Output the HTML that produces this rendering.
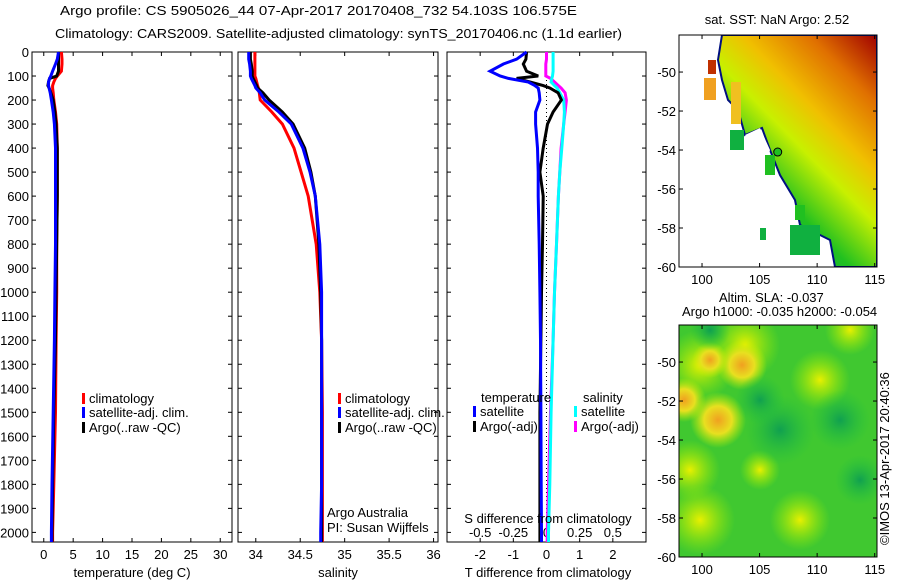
<!DOCTYPE html>
<html><head><meta charset="utf-8"><style>
body{margin:0;background:#fff}
svg text{font-family:"Liberation Sans",sans-serif;font-size:13px;fill:#000}
</style></head><body>
<svg id="s" width="900" height="580" viewBox="0 0 900 580">
<defs>
<linearGradient id="sstg" x1="1" y1="0" x2="0.3" y2="1">
<stop offset="0" stop-color="#a00000"/><stop offset="0.2" stop-color="#e07000"/><stop offset="0.4" stop-color="#f0c000"/><stop offset="0.55" stop-color="#c8f000"/><stop offset="0.75" stop-color="#20c020"/><stop offset="1" stop-color="#10a060"/></linearGradient>
<radialGradient id="blobO"><stop offset="0" stop-color="#f0a020"/><stop offset="0.5" stop-color="#e8e020"/><stop offset="1" stop-color="#c0f000" stop-opacity="0"/></radialGradient>
<radialGradient id="blobY"><stop offset="0" stop-color="#e8f000"/><stop offset="1" stop-color="#a0f000" stop-opacity="0"/></radialGradient>
<radialGradient id="blobG"><stop offset="0" stop-color="#10a050"/><stop offset="1" stop-color="#20c040" stop-opacity="0"/></radialGradient>
<clipPath id="clipSst"><rect x="679" y="35" width="198" height="232"/></clipPath>
<clipPath id="clipSla"><rect x="679" y="325" width="198" height="232"/></clipPath>
</defs>
<text x="60" y="15" font-size="14" textLength="517" lengthAdjust="spacingAndGlyphs">Argo profile: CS 5905026_44 07-Apr-2017 20170408_732 54.103S 106.575E</text>
<text x="55" y="38" font-size="14" textLength="567" lengthAdjust="spacingAndGlyphs">Climatology: CARS2009. Satellite-adjusted climatology: synTS_20170406.nc (1.1d earlier)</text>
<g id="plots"></g>
</svg>
<script>
const depth=[0,30,50,80,100,110,125,140,150,170,200,250,300,400,500,600,800,1000,1200,1500,1800,2000,2040];
const tempClim=[3.0,3.1,3.1,3.0,2.3,2.0,1.7,1.5,1.5,1.6,1.7,2.0,2.2,2.3,2.3,2.3,2.2,2.2,2.1,2.0,1.7,1.5,1.5];
const tempSat=[2.5,2.3,2.0,1.5,1.2,1.0,0.8,0.8,0.9,1.1,1.3,1.6,1.8,2.0,2.0,2.0,2.0,1.9,1.8,1.6,1.4,1.3,1.3];
const tempArgo=[2.5,2.5,2.5,2.5,2.2,1.0,0.8,0.7,0.9,1.2,1.6,1.9,2.1,2.3,2.3,2.3,2.2,2.1,2.0,1.7,1.5,1.4,1.4];
const salClim=[33.99,33.99,33.99,33.99,33.99,34.0,34.01,34.02,34.03,34.04,34.05,34.18,34.3,34.43,34.51,34.59,34.68,34.72,34.74,34.75,34.75,34.75,34.75];
const salSat=[33.92,33.92,33.93,33.94,33.94,33.95,33.97,33.99,34.0,34.05,34.1,34.26,34.4,34.53,34.61,34.67,34.72,34.74,34.74,34.74,34.74,34.73,34.73];
const salArgo=[33.94,33.94,33.95,33.96,33.96,33.97,33.99,34.01,34.02,34.08,34.15,34.3,34.42,34.55,34.62,34.67,34.71,34.73,34.74,34.74,34.74,34.74,34.74];
const tDiffSat=[-0.6,-0.9,-1.3,-1.7,-1.4,-1.15,-0.55,-0.35,-0.25,-0.22,-0.2,-0.33,-0.33,-0.27,-0.25,-0.25,-0.22,-0.2,-0.18,-0.17,-0.16,-0.15,-0.15];
const tDiffArgo=[-0.6,-0.62,-0.7,-0.6,-0.25,-0.9,-0.5,-0.1,0.1,0.35,0.45,0.2,0.03,-0.1,-0.2,-0.1,-0.12,-0.15,-0.17,-0.2,-0.2,-0.2,-0.2];
const sDiffSat=[0.05,0.05,0.05,0.05,0.045,0.04,0.035,0.06,0.08,0.1,0.13,0.135,0.13,0.115,0.1,0.09,0.075,0.06,0.05,0.035,0.025,0.015,0.015];
const sDiffArgo=[0,0,-0.005,-0.005,-0.005,0.03,0.06,0.09,0.11,0.14,0.15,0.14,0.13,0.11,0.1,0.09,0.075,0.06,0.05,0.03,0.015,0.005,0.005];
const tTicks=[0,5,10,15,20,25,30];
const sTicks=[34,34.5,35,35.5,36];
const dTicks=[0,100,200,300,400,500,600,700,800,900,1000,1100,1200,1300,1400,1500,1600,1700,1800,1900,2000];
const dtTicks=[-2,-1,0,1,2];
const dsTicks=[-0.5,-0.25,0,0.25,0.5];
const lonTicks=[100,105,110,115];
const latTicks=[-50,-52,-54,-56,-58,-60];

const NS='http://www.w3.org/2000/svg';
const G=document.getElementById('plots');
function mk(tag,attrs,parent){const e=document.createElementNS(NS,tag);for(const k in attrs)e.setAttribute(k,attrs[k]);(parent||G).appendChild(e);return e;}
const Y0=52,Y1=542;
const yD=d=>Y0+(d/2040)*(Y1-Y0);
function lin(d0,d1,r0,r1){return v=>r0+(v-d0)/(d1-d0)*(r1-r0);}
const xT=lin(-2,32,32,232), xS=lin(33.8,36.05,238,438), xdT=lin(-3,3,447,646), xdS=v=>xdT(v*4);

function box(x0,x1,name){const r=mk('rect',{x:x0,y:Y0,width:x1-x0,height:Y1-Y0,fill:'none',stroke:'#000','stroke-width':1});}
function yAxis(x0,x1,labels){dTicks.forEach(d=>{const y=yD(d);mk('line',{x1:x0,x2:x0+4,y1:y,y2:y,stroke:'#000'});mk('line',{x1:x1,x2:x1-4,y1:y,y2:y,stroke:'#000'});if(labels){const t=mk('text',{x:x0-3,y:y+5,'text-anchor':'end'});t.textContent=d;}});}
function xAxis(ticks,fx,top,labY,name){ticks.forEach(v=>{const x=fx(v);mk('line',{x1:x,x2:x,y1:Y1,y2:Y1-4,stroke:'#000'});if(top)mk('line',{x1:x,x2:x,y1:Y0,y2:Y0+4,stroke:'#000'});const t=mk('text',{x:x,y:labY,'text-anchor':'middle'});t.textContent=v;});}
function line(vals,fx,color,name,w){const p=vals.map((v,i)=>fx(v).toFixed(1)+','+yD(depth[i]).toFixed(1)).join(' ');const l=mk('polyline',{points:p,fill:'none',stroke:color,'stroke-width':w||3});}
function txt(x,y,s,name,extra){const t=mk('text',Object.assign({x:x,y:y},extra||{}));t.textContent=s;return t;}
function leg(x,y,color,s,name){mk('rect',{x:x,y:y-10,width:3,height:11,fill:color});txt(x+7,y,s,name);}

// panel 1
box(32,232,'temperature-panel');yAxis(32,232,true);xAxis(tTicks,xT,true,559,'temperature-tick-label');
line(tempClim,xT,'#f00','temp-climatology-line');line(tempArgo,xT,'#000','temp-argo-line');line(tempSat,xT,'#00f','temp-satellite-line');
txt(132,577,'temperature (deg C)','temperature-axis-title',{'text-anchor':'middle'});
leg(82,403,'#f00','climatology','legend-climatology');leg(82,417,'#00f','satellite-adj. clim.','legend-satellite');leg(82,432,'#000','Argo(..raw -QC)','legend-argo');
// panel 2
box(238,438,'salinity-panel');yAxis(238,438,false);xAxis(sTicks,xS,true,559,'salinity-tick-label');
line(salClim,xS,'#f00','sal-climatology-line');line(salArgo,xS,'#000','sal-argo-line');line(salSat,xS,'#00f','sal-satellite-line');
txt(338,577,'salinity','salinity-axis-title',{'text-anchor':'middle'});
leg(338,403,'#f00','climatology','legend-climatology-2');leg(338,417,'#00f','satellite-adj. clim.','legend-satellite-2');leg(338,432,'#000','Argo(..raw -QC)','legend-argo-2');
txt(327,517,'Argo Australia','argo-australia-label');txt(327,532,'PI: Susan Wijffels','pi-label');
// panel 3
box(447,646,'difference-panel');yAxis(447,646,false);
dtTicks.forEach(v=>{const x=xdT(v);mk('line',{x1:x,x2:x,y1:Y0,y2:Y0+4,stroke:'#000'});txt(x,559,v,'t-diff-tick-label',{'text-anchor':'middle'});});
dsTicks.forEach(v=>{const x=xdS(v);mk('line',{x1:x,x2:x,y1:Y1,y2:Y1-4,stroke:'#000'});txt(x,537,v,'s-diff-tick-label',{'text-anchor':'middle'});});
mk('line',{x1:xdT(0),x2:xdT(0),y1:Y0,y2:Y1,stroke:'#000','stroke-dasharray':'1,3'});
line(sDiffArgo,xdS,'#f0f','s-diff-argo-line');line(sDiffSat,xdS,'#0ff','s-diff-satellite-line');
line(tDiffArgo,xdT,'#000','t-diff-argo-line');line(tDiffSat,xdT,'#00f','t-diff-satellite-line');
txt(548,523,'S difference from climatology','s-diff-axis-title',{'text-anchor':'middle'});
txt(548,577,'T difference from climatology','t-diff-axis-title',{'text-anchor':'middle'});
txt(481,402,'temperature','legend-temperature-header');txt(583,402,'salinity','legend-salinity-header');
leg(473,416,'#00f','satellite','legend-t-satellite');leg(473,431,'#000','Argo(-adj)','legend-t-argo');
leg(574,416,'#0ff','satellite','legend-s-satellite');leg(574,431,'#f0f','Argo(-adj)','legend-s-argo');

// maps
const xL=lin(98,115.2,679,877), yLat1=lin(-48.1,-60,35,267), yLat2=lin(-48.1,-60,325,557);
function mapAxes(yf,name){const y0=yf(-48.1),y1=yf(-60);mk('rect',{x:679,y:y0,width:198,height:y1-y0,fill:'none',stroke:'#000'});
lonTicks.forEach(v=>{const x=xL(v);mk('line',{x1:x,x2:x,y1:y1,y2:y1-4,stroke:'#000'});mk('line',{x1:x,x2:x,y1:y0,y2:y0+4,stroke:'#000'});txt(x,y1+17,v,'lon-tick-label',{'text-anchor':'middle'});});
latTicks.forEach(v=>{const y=yf(v);mk('line',{x1:679,x2:683,y1:y,y2:y,stroke:'#000'});mk('line',{x1:877,x2:873,y1:y,y2:y,stroke:'#000'});txt(676,y+5,v,'lat-tick-label',{'text-anchor':'end'});});}
// SST map
const sst=mk('g',{'clip-path':'url(#clipSst)'});
mk('polygon',{points:'722,35 877,35 877,267 835,267 830,240 800,225 795,200 780,175 770,150 762,128 745,135 738,110 728,100 722,80 718,60',fill:'url(#sstg)',stroke:'#001080','stroke-width':2},sst);
mk('polygon',{points:'745,135 760,128 770,150 765,170 755,150',fill:'#fff'},sst);
mk('rect',{x:704,y:78,width:12,height:22,fill:'#f0a020'},sst);mk('rect',{x:731,y:82,width:10,height:42,fill:'#f0c020'},sst);mk('rect',{x:708,y:60,width:8,height:14,fill:'#c03000'},sst);
mk('rect',{x:730,y:130,width:14,height:20,fill:'#10b040'},sst);mk('rect',{x:790,y:225,width:30,height:30,fill:'#10b040'},sst);mk('rect',{x:765,y:155,width:10,height:20,fill:'#20c020'},sst);
mk('rect',{x:760,y:228,width:6,height:12,fill:'#10b040'},sst);mk('rect',{x:795,y:205,width:10,height:15,fill:'#20c020'},sst);
mk('circle',{cx:xL(106.575),cy:yLat1(-54.103),r:4,fill:'#20c020',stroke:'#000'},sst);
mapAxes(yLat1,'sst-map-frame');
txt(777,24,'sat. SST: NaN Argo: 2.52','sst-map-title',{'text-anchor':'middle'});
// SLA map
const sla=mk('g',{'clip-path':'url(#clipSla)'});
mk('rect',{x:679,y:325,width:198,height:232,fill:'#40c830'},sla);
[[700,365,35,'blobY'],[745,345,35,'blobY'],[742,365,25,'blobO'],[710,360,18,'blobO'],[718,420,28,'blobO'],[684,400,22,'blobO'],[760,470,20,'blobY'],[820,380,30,'blobY'],[850,330,25,'blobY'],[700,520,35,'blobY'],[800,520,30,'blobY'],[690,470,30,'blobY'],[840,420,30,'blobG'],[780,430,35,'blobG'],[860,480,25,'blobG'],[710,330,20,'blobG'],[760,400,25,'blobG']].forEach(b=>mk('circle',{cx:b[0],cy:b[1],r:b[2],fill:'url(#'+b[3]+')'},sla));
mapAxes(yLat2,'sla-map-frame');
txt(719,302,'Altim. SLA: -0.037','sla-map-title');txt(682,316,'Argo h1000: -0.035 h2000: -0.054','sla-map-subtitle');
txt(0,0,'©IMOS 13-Apr-2017 20:40:36','imos-credit',{transform:'translate(889,545) rotate(-90)'});
</script>
</body></html>
